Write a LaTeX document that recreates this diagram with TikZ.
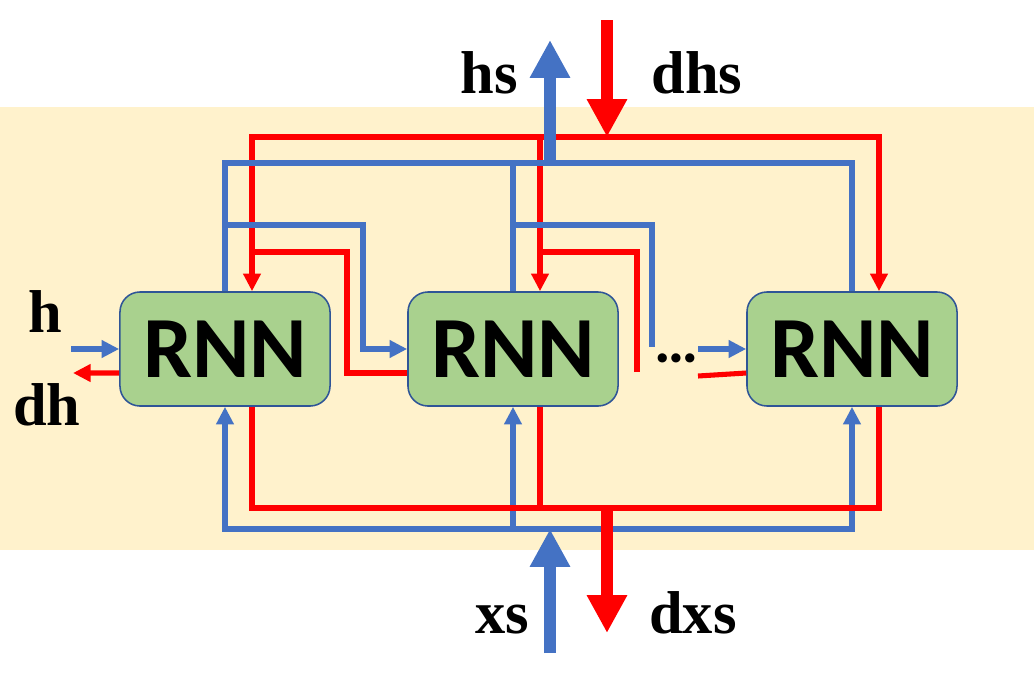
\documentclass[tikz,border=0pt]{standalone}
\usepackage{fontspec}
\setmainfont{Liberation Serif}
\newfontfamily\rnnfont{Carlito}
\usetikzlibrary{arrows.meta}
\definecolor{bluel}{HTML}{4472C4}
\definecolor{redl}{HTML}{FF0000}
\definecolor{beige}{HTML}{FFF2CC}
\definecolor{greenbox}{HTML}{A9D18E}
\definecolor{boxborder}{HTML}{2F5597}
\tikzset{
  bl/.style={draw=bluel, line width=3.6pt, line join=miter},
  rd/.style={draw=redl, line width=3.6pt, line join=miter},
  blarrow/.style={bl, -{Triangle[width=12pt,length=12.5pt]}},
  rdarrow/.style={rd, -{Triangle[width=12pt,length=12.5pt]}},
  thickb/.style={draw=bluel, line width=8.5pt, -{Triangle[width=27pt,length=27pt]}},
  thickr/.style={draw=redl, line width=8.5pt, -{Triangle[width=27pt,length=27pt]}},
  rnn/.style={draw=boxborder, line width=1.1pt, fill=greenbox, rounded corners=0.5cm,
    minimum width=5.25cm, minimum height=2.85cm, inner sep=0pt,
    font=\rnnfont\bfseries\fontsize{62}{62}\selectfont},
  lbl/.style={font=\bfseries\fontsize{43}{43}\selectfont, inner sep=0pt, anchor=base}
}
\begin{document}
\begin{tikzpicture}[x=0.025cm, y=-0.025cm]
\useasboundingbox (0,0) rectangle (1034,672);
\fill[white] (0,0) rectangle (1034,672);
\fill[beige] (0,107) rectangle (1034,550);

% boxes
\node[rnn] (r1) at (225,349) {RNN};
\node[rnn] (r2) at (513,349) {RNN};
\node[rnn] (r3) at (852,349) {RNN};

% pins
\coordinate (r1nr) at ([xshift=0.675cm]r1.north);
\coordinate (r2nr) at ([xshift=0.675cm]r2.north);
\coordinate (r3nr) at ([xshift=0.675cm]r3.north);
\coordinate (r1sr) at ([xshift=0.675cm]r1.south);
\coordinate (r2sr) at ([xshift=0.675cm]r2.south);
\coordinate (r3sr) at ([xshift=0.675cm]r3.south);
\coordinate (r1wr) at ([yshift=-0.6cm]r1.west);
\coordinate (r2wr) at ([yshift=-0.6cm]r2.west);
\coordinate (r3wr) at ([yshift=-0.6cm]r3.west);

% junction coordinates
\coordinate (hsbase) at (550,163);
\coordinate (hstip) at (550,40);
\coordinate (dhstail) at (607,20);
\coordinate (rtop) at (607,137);
\coordinate (k1) at (363,225);
\coordinate (k2) at (652,225);
\coordinate (k2e) at (652,347);
\coordinate (j1) at (347,252);
\coordinate (j2) at (637,252);
\coordinate (j2e) at (637,372);
\coordinate (d1) at (698,349);
\coordinate (d2) at (698,376);
\coordinate (hin) at (71,349);
\coordinate (dhout) at (73,373);
\coordinate (bbus) at (550,529);
\coordinate (rbus) at (607,508);
\coordinate (xstail) at (550,653);
\coordinate (dxstip) at (607,633);

% red top
\draw[rdarrow] (rtop) -| (r1nr);
\draw[rdarrow] (rtop) -| (r3nr);
\draw[rdarrow] (r2nr |- rtop) -- (r2nr);
% red hidden grads
\draw[rd] (r2wr) -| (j1) -- (r1nr |- j1);
\draw[rd] (j2e) -- (j2) -- (r2nr |- j2);
\draw[rd] (d2) -- (r3wr);
\draw[rdarrow] (r1wr) -- (dhout);

% blue top
\draw[bl] (r1.north) |- (hsbase) -| (r3.north);
\draw[bl] (r2.north) -- (r2.north |- hsbase);
% blue hidden
\draw[blarrow] (r1.north |- k1) -- (k1) |- (r2.west);
\draw[bl] (r2.north |- k2) -- (k2) -- (k2e);
\draw[blarrow] (d1) -- (r3.west);
\draw[blarrow] (hin) -- (r1.west);

% blue bottom
\draw[blarrow] (bbus) -| (r1.south);
\draw[blarrow] (bbus) -| (r3.south);
\draw[blarrow] (r2.south |- bbus) -- (r2.south);

% red bottom
\draw[rd] (r1sr) -- (r1sr |- rbus) -- (r3sr |- rbus) -- (r3sr);
\draw[rd] (r2sr) -- (r2sr |- rbus);

% thick arrows
\draw[thickr] (dhstail) -- (rtop);
\draw[thickb] (hsbase) -- (hstip);
\draw[thickb] (xstail) -- (bbus);
\draw[thickr] (rbus) -- (dxstip);

% labels
\node[lbl] (lhs) at (489,93) {hs};
\node[lbl] (ldhs) at (697,93) {dhs};
\node[lbl] (lxs) at (502,633) {xs};
\node[lbl] (ldxs) at (693,633) {dxs};
\node[lbl] (lh) at (45,332) {h};
\node[lbl] (ldh) at (47,425) {dh};
\node[inner sep=0pt, anchor=base, font=\rnnfont\bfseries\fontsize{44}{44}\selectfont] (dots) at (677,362) {…};
\end{tikzpicture}
\end{document}
